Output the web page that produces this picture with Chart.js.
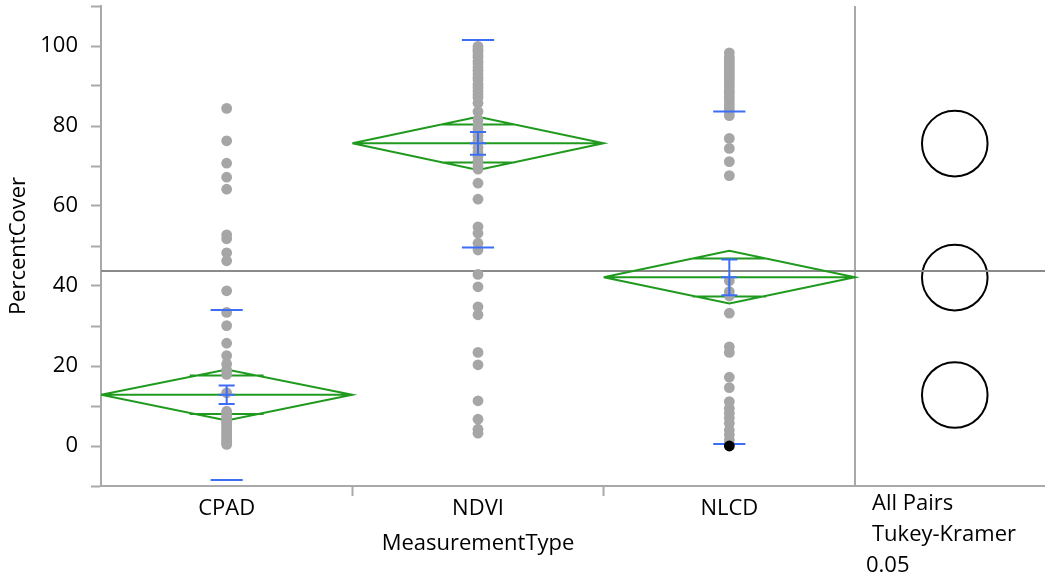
<!DOCTYPE html>
<html>
<head>
<meta charset="utf-8">
<script src="https://cdn.jsdelivr.net/npm/chart.js@4.4.1/dist/chart.umd.min.js"></script>
<style>
  html, body { margin: 0; padding: 0; background: #fff; }
  #wrap { width: 1045px; height: 578px; }
</style>
</head>
<body>
<div id="wrap"><canvas id="oneway"></canvas></div>
<script>
// --- data ---
const categories = ["CPAD", "NDVI", "NLCD"];
const xTitle = "MeasurementType";
const yTitle = "PercentCover";
const compareLines = ["All Pairs", "Tukey-Kramer", "0.05"];

const cpadValues = [84.4, 76.3, 70.7, 67.2, 64.2, 52.8, 51.8, 48.3, 46.3, 38.8, 33.4, 30.1,
  25.7, 22.6, 20.5, 19.0, 17.9, 13.3, 8.7, 8.1, 7.5, 6.9, 6.2, 5.6, 5.1, 4.4, 3.8, 3.1,
  2.6, 2.0, 1.4, 0.9, 0.4];
const ndviValues = [99.9, 99.2, 98.6, 97.8, 97.1, 96.2, 95.5, 94.6, 93.9, 93.0, 92.2, 91.5,
  90.4, 89.6, 88.8, 87.9, 87.1, 85.7, 83.6, 81.5, 80.2, 79.3, 78.4, 77.5, 76.3, 74.6, 73.5,
  72.3, 71.2, 70.0, 69.2, 65.7, 61.7, 54.8, 53.2, 50.7, 49.0, 42.9, 39.8, 34.8, 32.8, 23.4,
  20.3, 11.3, 6.7, 4.2, 3.2];
const nlcdValues = [98.3, 97.2, 96.5, 95.8, 95.1, 94.4, 93.6, 92.9, 92.1, 91.3, 90.5, 89.8,
  88.9, 88.1, 87.2, 86.3, 85.4, 84.5, 83.6, 82.6, 76.9, 74.4, 71.1, 67.6, 41.3, 38.6, 37.5,
  33.2, 24.8, 23.4, 17.2, 14.6, 11.1, 9.4, 8.2, 7.0, 5.7, 4.0, 2.8, 1.5, 0.5];
const nlcdSelected = [0];

const groupMeans = [12.8, 75.7, 42.2];
const diamondUpper = [19.1, 82.3, 48.8];
const diamondLower = [6.4, 69.0, 35.6];
const overlapUpper = [17.6, 80.4, 46.9];
const overlapLower = [8.0, 70.9, 37.4];
const sdUpper = [34.0, 101.5, 83.6];
const sdLower = [-8.5, 49.6, 0.5];
const seUpper = [15.1, 78.5, 46.6];
const seLower = [10.5, 72.8, 37.7];
const grandMean = 43.75;

const circleCenters = [75.6, 42.1, 12.75];
const circleRadii = [8.2, 8.2, 8.2];

const yTicksMin = -10;
const yTicksMax = 110;

// --- layout in x-axis units (one unit per group, right panel after 3) ---
const X_MAX = 3.756;
const CIRCLE_X = 3.397;
const OVERLAP_HALF = 0.147;
const SD_HALF = 0.064;
const SE_HALF = 0.032;

const GREEN = "#1f9a1f";
const BLUE = "#3c6df5";
const AXIS = "#a9a9a9";
const FONT = '"Open Sans", sans-serif';

Chart.defaults.font.family = FONT;
Chart.defaults.font.size = 22;
Chart.defaults.color = "#000";

function joinSegments(segments) {
  const out = [];
  segments.forEach((s, i) => {
    if (i > 0) out.push({ x: s[0].x, y: null });
    out.push(...s);
  });
  return out;
}

function diamondAt(i) {
  const m = groupMeans[i], up = diamondUpper[i], lo = diamondLower[i];
  const c = i + 0.5;
  const box = [
    { x: i, y: m }, { x: c, y: up }, { x: i + 1, y: m }, { x: c, y: lo }, { x: i, y: m },
  ];
  const meanLine = [{ x: i, y: m }, { x: i + 1, y: m }];
  const ovUp = [{ x: c - OVERLAP_HALF, y: overlapUpper[i] }, { x: c + OVERLAP_HALF, y: overlapUpper[i] }];
  const ovLo = [{ x: c - OVERLAP_HALF, y: overlapLower[i] }, { x: c + OVERLAP_HALF, y: overlapLower[i] }];
  return [box, meanLine, ovUp, ovLo];
}

const diamondData = joinSegments(categories.flatMap((_, i) => diamondAt(i)));

const sdData = joinSegments(categories.flatMap((_, i) => {
  const c = i + 0.5;
  return [
    [{ x: c - SD_HALF, y: sdUpper[i] }, { x: c + SD_HALF, y: sdUpper[i] }],
    [{ x: c - SD_HALF, y: sdLower[i] }, { x: c + SD_HALF, y: sdLower[i] }],
  ];
}));

const seData = joinSegments(categories.flatMap((_, i) => {
  const c = i + 0.5;
  return [
    [{ x: c - SE_HALF, y: seUpper[i] }, { x: c + SE_HALF, y: seUpper[i] }],
    [{ x: c - SE_HALF, y: groupMeans[i] }, { x: c + SE_HALF, y: groupMeans[i] }],
    [{ x: c - SE_HALF, y: seLower[i] }, { x: c + SE_HALF, y: seLower[i] }],
    [{ x: c, y: seUpper[i] }, { x: c, y: seLower[i] }],
  ];
}));

const pointData = [cpadValues, ndviValues, nlcdValues].flatMap((vals, i) =>
  vals.map((v) => ({ x: i + 0.5, y: v }))
);

const panelText = {
  id: "panelText",
  afterDraw(chart) {
    const { ctx } = chart;
    const x = chart.scales.x;
    ctx.save();
    ctx.font = "22px " + FONT;
    ctx.fillStyle = "#000";
    ctx.textBaseline = "alphabetic";
    ctx.textAlign = "center";
    ctx.fillText(xTitle, x.getPixelForValue(1.5), 550);
    ctx.textAlign = "left";
    const left = x.getPixelForValue(3);
    ctx.fillText(compareLines[0], left + 17, 510);
    ctx.fillText(compareLines[1], left + 17, 541);
    ctx.fillText(compareLines[2], left + 11, 572);
    ctx.restore();
  },
};

new Chart(document.getElementById("oneway"), {
  type: "scatter",
  data: {
    datasets: [
      {
        data: [{ x: 2.5, y: nlcdSelected[0] }],
        pointRadius: 5.4,
        pointBackgroundColor: "#000",
        pointBorderWidth: 0,
      },
      {
        data: seData,
        showLine: true,
        borderColor: BLUE,
        borderWidth: 2,
        pointRadius: 0,
      },
      {
        data: sdData,
        showLine: true,
        borderColor: BLUE,
        borderWidth: 2,
        pointRadius: 0,
      },
      {
        data: pointData,
        pointRadius: 5.4,
        pointBackgroundColor: "#a6a6a6",
        pointBorderWidth: 0,
      },
      {
        data: diamondData,
        showLine: true,
        borderColor: GREEN,
        borderWidth: 2,
        pointRadius: 0,
      },
      {
        data: [{ x: 0, y: grandMean }, { x: X_MAX, y: grandMean }],
        showLine: true,
        borderColor: "#8a8a8a",
        borderWidth: 2,
        pointRadius: 0,
      },
      {
        data: [{ x: 3, y: yTicksMin }, { x: 3, y: yTicksMax }],
        showLine: true,
        borderColor: AXIS,
        borderWidth: 2,
        pointRadius: 0,
      },
      {
        data: circleCenters.map((m) => ({ x: CIRCLE_X, y: m })),
        pointRadius: (c) => {
          const y = c.chart.scales.y;
          return Math.abs(y.getPixelForValue(0) - y.getPixelForValue(circleRadii[c.dataIndex]));
        },
        pointBackgroundColor: "rgba(0,0,0,0)",
        pointBorderColor: "#000",
        pointBorderWidth: 2,
      },
    ],
  },
  options: {
    animation: false,
    responsive: true,
    maintainAspectRatio: false,
    layout: { autoPadding: false, padding: { top: 6, left: 0, right: 0, bottom: 0 } },
    scales: {
      x: {
        type: "linear",
        min: 0,
        max: X_MAX,
        afterBuildTicks: (scale) => {
          scale.ticks = [0.5, 1, 1.5, 2, 2.5].map((v) => ({ value: v }));
        },
        afterFit: (scale) => {
          scale.height = 92;
          scale.paddingLeft = 0;
          scale.paddingRight = 0;
        },
        ticks: {
          autoSkip: false,
          maxRotation: 0,
          padding: 0,
          callback: (v) => (v % 1 === 0.5 ? categories[Math.floor(v)] : ""),
        },
        grid: {
          drawOnChartArea: false,
          tickLength: 10,
          tickWidth: 2,
          tickColor: (c) => (c.tick && c.tick.value % 1 === 0 ? AXIS : "rgba(0,0,0,0)"),
        },
        border: { color: AXIS, width: 2 },
      },
      y: {
        min: yTicksMin,
        max: yTicksMax,
        afterFit: (scale) => {
          scale.width = 101;
          scale.paddingTop = 0;
          scale.paddingBottom = 0;
        },
        ticks: {
          stepSize: 10,
          padding: 13,
          callback: (v) => (v % 20 === 0 && v >= 0 && v <= 100 ? v : ""),
        },
        grid: {
          drawOnChartArea: false,
          tickLength: 10,
          tickWidth: 2,
          tickColor: AXIS,
        },
        border: { color: AXIS, width: 2 },
        title: {
          display: true,
          text: yTitle,
          padding: { top: 6, bottom: 0 },
        },
      },
    },
    plugins: {
      legend: { display: false },
      tooltip: { enabled: false },
    },
  },
  plugins: [panelText],
});
</script>
</body>
</html>
